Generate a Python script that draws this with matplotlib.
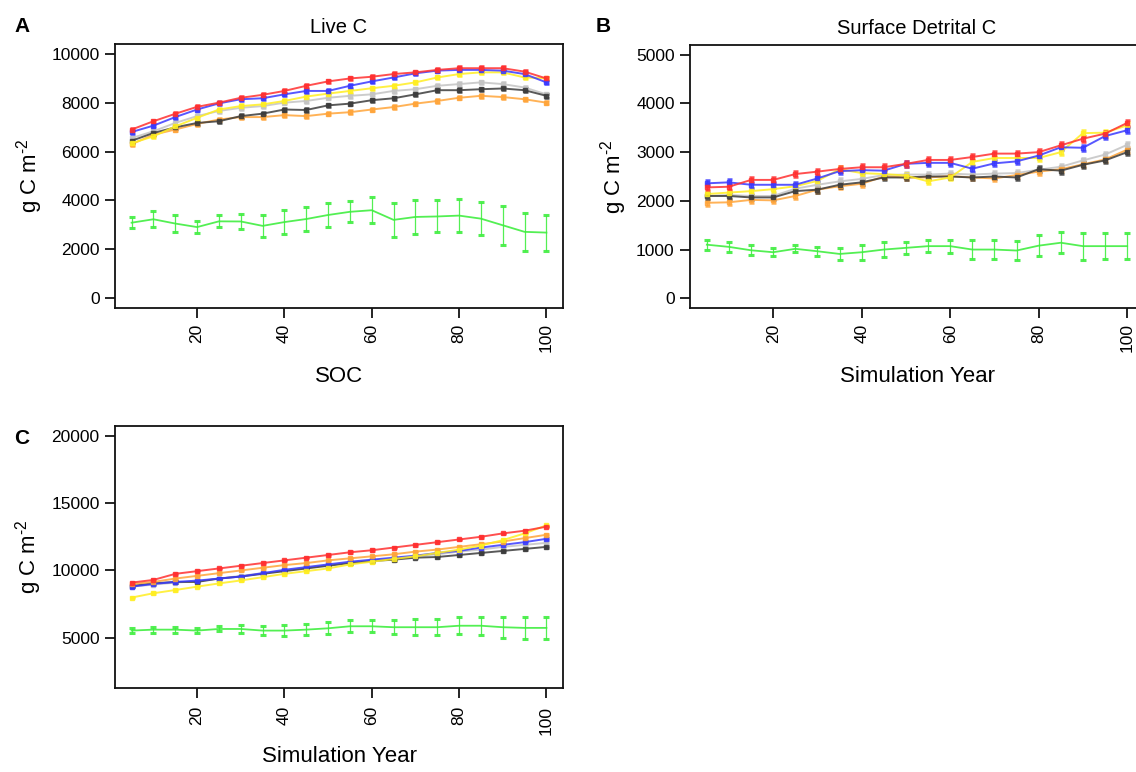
import matplotlib
matplotlib.use("Agg")
import matplotlib.pyplot as plt
import numpy as np

plt.rcParams['font.family'] = ['Liberation Sans', 'DejaVu Sans']
plt.rcParams['axes.unicode_minus'] = False

# simulation years
years = [5, 10, 15, 20, 25, 30, 35, 40, 45, 50, 55, 60, 65, 70, 75, 80, 85, 90, 95, 100]

# ---- panel A: Live C ----
liveA_red = [6900, 7240, 7545, 7830, 8000, 8200, 8320, 8480, 8690, 8870, 8990, 9060, 9170, 9240, 9340, 9410, 9410, 9410, 9270, 8990]
liveA_blue = [6800, 7060, 7410, 7720, 7970, 8140, 8180, 8340, 8480, 8480, 8690, 8870, 9030, 9200, 9310, 9340, 9340, 9310, 9170, 8830]
liveA_yellow = [6340, 6620, 7030, 7380, 7720, 7860, 7930, 8070, 8250, 8370, 8480, 8590, 8690, 8830, 9030, 9170, 9240, 9240, 9030, 9000]
liveA_lgray = [6550, 6830, 7170, 7450, 7660, 7790, 7860, 8000, 8070, 8200, 8280, 8340, 8480, 8550, 8690, 8760, 8830, 8760, 8620, 8340]
liveA_dgray = [6440, 6760, 6990, 7170, 7240, 7450, 7550, 7720, 7700, 7890, 7960, 8100, 8180, 8340, 8510, 8510, 8550, 8580, 8510, 8280]
liveA_orange = [6300, 6690, 6900, 7130, 7310, 7410, 7410, 7490, 7450, 7550, 7610, 7720, 7820, 7960, 8070, 8200, 8280, 8230, 8140, 8000]
liveA_green = [3090, 3230, 3055, 2910, 3145, 3140, 2960, 3115, 3240, 3405, 3535, 3600, 3205, 3325, 3345, 3380, 3255, 2985, 2715, 2685]
liveA_green_err = [220, 330, 365, 230, 245, 310, 460, 495, 480, 485, 435, 540, 685, 705, 655, 660, 675, 805, 785, 735]

# ---- panel B: Surface Detrital C ----
detB_red = [2276, 2290, 2430, 2430, 2550, 2600, 2655, 2690, 2690, 2760, 2840, 2840, 2900, 2970, 2970, 3000, 3140, 3276, 3380, 3600]
detB_blue = [2360, 2380, 2330, 2330, 2330, 2460, 2610, 2630, 2620, 2760, 2780, 2780, 2660, 2770, 2810, 2930, 3100, 3090, 3330, 3450]
detB_yellow = [2140, 2170, 2200, 2240, 2300, 2410, 2650, 2570, 2550, 2520, 2400, 2480, 2800, 2880, 2880, 2880, 3000, 3390, 3400, 3550]
detB_lgray = [2100, 2120, 2100, 2100, 2250, 2330, 2400, 2450, 2530, 2540, 2540, 2560, 2540, 2560, 2570, 2640, 2700, 2830, 2950, 3150]
detB_dgray = [2100, 2100, 2070, 2070, 2200, 2230, 2330, 2380, 2480, 2480, 2500, 2500, 2480, 2500, 2480, 2650, 2620, 2740, 2830, 3000]
detB_orange = [1960, 1970, 2020, 2010, 2100, 2230, 2300, 2350, 2500, 2480, 2480, 2510, 2480, 2460, 2530, 2600, 2650, 2750, 2850, 3050]
detB_green = [1100, 1055, 985, 945, 1015, 965, 910, 945, 1000, 1035, 1070, 1070, 1000, 1000, 980, 1080, 1140, 1070, 1070, 1070]
detB_green_err = [105, 95, 100, 85, 70, 90, 115, 150, 155, 130, 130, 135, 190, 190, 200, 210, 215, 280, 270, 260]

# ---- panel C: SOC ----
socC_red = [9100, 9300, 9750, 9950, 10150, 10350, 10550, 10750, 10950, 11150, 11350, 11500, 11700, 11900, 12100, 12300, 12500, 12750, 12950, 13250]
socC_blue = [8800, 9000, 9150, 9250, 9400, 9550, 9800, 10050, 10250, 10450, 10650, 10800, 10950, 11100, 11300, 11450, 11700, 11900, 12100, 12350]
socC_yellow = [7990, 8310, 8550, 8800, 9040, 9260, 9500, 9750, 9950, 10150, 10450, 10650, 10850, 11050, 11300, 11550, 11850, 12250, 12750, 13350]
socC_lgray = [8800, 8950, 9100, 9200, 9400, 9600, 9800, 10000, 10200, 10400, 10600, 10750, 10900, 11050, 11200, 11400, 11550, 11750, 11900, 12050]
socC_dgray = [8850, 9050, 9150, 9150, 9400, 9550, 9750, 9950, 10150, 10350, 10550, 10700, 10800, 10950, 11000, 11150, 11300, 11450, 11600, 11750]
socC_orange = [9000, 9150, 9400, 9600, 9800, 10000, 10200, 10400, 10550, 10750, 10900, 11050, 11200, 11400, 11550, 11750, 11950, 12150, 12400, 12650]
socC_green = [5540, 5610, 5610, 5540, 5660, 5660, 5540, 5540, 5610, 5710, 5860, 5860, 5790, 5790, 5790, 5900, 5900, 5790, 5740, 5740]
socC_green_err = [170, 220, 220, 185, 185, 280, 345, 415, 430, 455, 430, 430, 525, 590, 610, 650, 675, 770, 820, 835]

# typical half-width of the small error bars on the non-green runs (per panel)
small_err_A = 70
small_err_B = 60
small_err_C = 60

col = {
    'lgray': '#c4c4c4',
    'orange': '#ffa53a',
    'dgray': '#3c3c3c',
    'yellow': '#ffee22',
    'blue': '#3a3aff',
    'red': '#ff3030',
    'green': '#40ee40',
}

ylab = 'g C m$^{\\mathregular{\u20102}}$'

fig = plt.figure(figsize=(11.36, 7.72), dpi=100)
W, H = 1136.0, 772.0


def add_ax(l, t, r, b):
    return fig.add_axes([l / W, 1 - b / H, (r - l) / W, (b - t) / H])


def draw_panel(ax, series, green, green_err, small_err, ylim, yticks, xpad=4):
    x = np.array(years)
    ax.errorbar(x, green, yerr=green_err, color=col['green'], lw=1.3,
                elinewidth=0.9, capsize=2.2, capthick=2.2, alpha=0.9, zorder=2)
    for name, vals in series:
        ax.errorbar(x, vals, yerr=small_err, color=col[name], lw=1.4,
                    elinewidth=0.8, capsize=1.8, capthick=1.8,
                    marker='s', ms=3.0, mec=col[name], alpha=0.85, zorder=3)
    ax.set_xlim(1.2, 103.8)
    ax.set_ylim(*ylim)
    ax.set_xticks([20, 40, 60, 80, 100])
    ax.set_yticks(yticks)
    ax.set_xticklabels(['20', '40', '60', '80', '100'], rotation=90)
    ax.tick_params(direction='out', length=7, width=1.2, labelsize=12.5, pad=4)
    ax.tick_params(axis='x', pad=xpad)
    for s in ax.spines.values():
        s.set_linewidth(1.3)
        s.set_color('#111111')
    ax.set_ylabel(ylab, fontsize=16, labelpad=5)


axA = add_ax(115, 44, 563, 308)
draw_panel(axA,
           [('lgray', liveA_lgray), ('orange', liveA_orange), ('dgray', liveA_dgray),
            ('yellow', liveA_yellow), ('blue', liveA_blue), ('red', liveA_red)],
           liveA_green, liveA_green_err, small_err_A,
           (-400, 10400), [0, 2000, 4000, 6000, 8000, 10000])
axA.set_title('Live C', fontsize=14.5, pad=8)
axA.set_xlabel('SOC', fontsize=16, labelpad=10)

axB = add_ax(690, 45, 1144, 308)
draw_panel(axB,
           [('lgray', detB_lgray), ('orange', detB_orange), ('dgray', detB_dgray),
            ('yellow', detB_yellow), ('blue', detB_blue), ('red', detB_red)],
           detB_green, detB_green_err, small_err_B,
           (-200, 5200), [0, 1000, 2000, 3000, 4000, 5000])
axB.set_title('Surface Detrital C', fontsize=14.5, pad=8)
axB.set_xlabel('Simulation Year', fontsize=16, labelpad=10)

axC = add_ax(115, 426, 563, 688)
draw_panel(axC,
           [('lgray', socC_lgray), ('dgray', socC_dgray), ('blue', socC_blue),
            ('orange', socC_orange), ('yellow', socC_yellow), ('red', socC_red)],
           socC_green, socC_green_err, small_err_C,
           (1280, 20720), [5000, 10000, 15000, 20000], xpad=6)
axC.set_xlabel('Simulation Year', fontsize=16, labelpad=8)

fig.text(14 / W, 1 - 26 / H, 'A', fontsize=15, fontweight='bold', va='center')
fig.text(596 / W, 1 - 26 / H, 'B', fontsize=15, fontweight='bold', va='center')
fig.text(14 / W, 1 - 438 / H, 'C', fontsize=15, fontweight='bold', va='center')

fig.savefig('out.png', dpi=100)
